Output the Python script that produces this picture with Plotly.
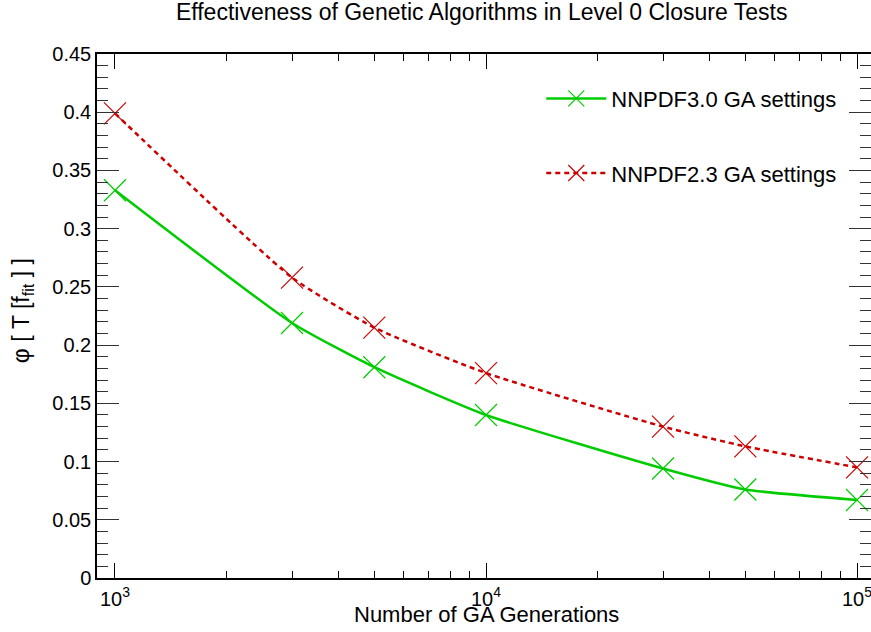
import plotly.graph_objects as go

generations = [1000, 3000, 5000, 10000, 30000, 50000, 100000]
nnpdf30 = [0.333, 0.219, 0.181, 0.140, 0.094, 0.076, 0.067]
nnpdf23 = [0.399, 0.258, 0.215, 0.176, 0.130, 0.113, 0.095]
names = ["NNPDF3.0 GA settings", "NNPDF2.3 GA settings"]
y_ticks = [0, 0.05, 0.1, 0.15, 0.2, 0.25, 0.3, 0.35, 0.4, 0.45]
y_labels = ["0", "0.05", "0.1", "0.15", "0.2", "0.25", "0.3", "0.35", "0.4", "0.45"]
x_ticks = [1000, 10000, 100000]
x_labels = ["10<sup>3</sup>", "10<sup>4</sup>", "10<sup>5</sup>"]
x_minor = [2000, 3000, 4000, 5000, 6000, 7000, 8000, 9000,
           20000, 30000, 40000, 50000, 60000, 70000, 80000, 90000]

FONT = "Liberation Sans, Arial, sans-serif"
GREEN = "#00cc00"
RED = "#cc0000"

fig = go.Figure()
fig.add_trace(go.Scatter(
    x=generations, y=nnpdf30, name=names[0], mode="lines+markers",
    line=dict(color=GREEN, width=2.5, shape="spline", smoothing=0.5),
    marker=dict(symbol="x-thin-open", size=22, line=dict(color=GREEN, width=1.2)),
    legendgroup="a"))
fig.add_trace(go.Scatter(
    x=generations, y=nnpdf23, name=names[1], mode="lines+markers",
    line=dict(color=RED, width=2.5, dash="5px,4px", shape="spline", smoothing=0.5),
    marker=dict(symbol="x-thin-open", size=22, line=dict(color=RED, width=1.2)),
    legendgroup="b"))

fig.update_layout(
    width=871, height=632,
    margin=dict(l=97, r=0, t=54, b=54, autoexpand=False),
    paper_bgcolor="white", plot_bgcolor="white",
    font=dict(family=FONT, color="black", size=20),
    title=dict(text="Effectiveness of Genetic Algorithms in Level 0 Closure Tests",
               x=0.553, xanchor="center", y=0.981, yanchor="middle",
               font=dict(size=23, family=FONT)),
    legend=dict(x=0.574, xanchor="left", y=0.955, yanchor="top",
                bgcolor="rgba(0,0,0,0)", font=dict(size=22, family=FONT),
                tracegroupgap=43, itemwidth=60),
    showlegend=True,
)

fig.update_xaxes(
    type="log", range=[2.9515, 5.0377], automargin=False,
    showgrid=False, zeroline=False,
    showline=True, linecolor="black", linewidth=1.5, mirror="ticks",
    ticks="inside", ticklen=15, tickwidth=1.2, tickcolor="black",
    tickvals=x_ticks, ticktext=x_labels, ticklabeloverflow="allow",
    tickfont=dict(size=20, family=FONT),
    ticklabelstandoff=2,
    minor=dict(ticks="inside", ticklen=7, tickcolor="black", tickwidth=1,
               tickvals=x_minor, showgrid=False),
)
fig.update_yaxes(
    range=[0, 0.45], automargin=False,
    tickvals=y_ticks, ticktext=y_labels,
    showgrid=False, zeroline=False,
    showline=True, linecolor="black", linewidth=1.5, mirror="ticks",
    ticks="inside", ticklen=22, tickwidth=1.2, tickcolor="#333",
    tickfont=dict(size=20, family=FONT),
    minor=dict(ticks="inside", ticklen=11, dtick=0.01, tickcolor="#333",
               tickwidth=1.2, showgrid=False),
)

fig.add_annotation(
    text="Number of GA Generations", xref="paper", yref="paper",
    x=0.503, y=-0.07, xanchor="center", yanchor="middle", showarrow=False,
    font=dict(size=22, family=FONT))
fig.add_annotation(
    text="φ [ T [f<sub>fit</sub> ] ]", xref="paper", yref="paper",
    x=-0.097, y=0.511, xanchor="center", yanchor="middle", showarrow=False,
    textangle=-90, font=dict(size=23, family=FONT))

fig.write_html("out.html", config={"displayModeBar": False},
               post_script="document.body.style.margin='0';")
